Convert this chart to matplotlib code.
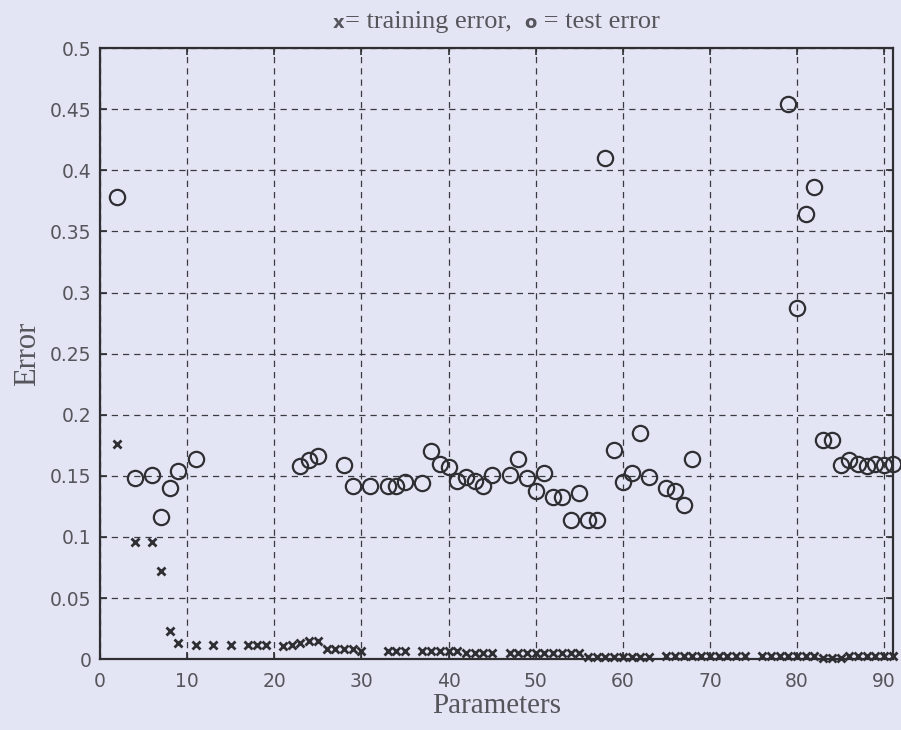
import matplotlib
matplotlib.use("Agg")
import matplotlib.pyplot as plt

# test error (circles)
test_x = [2, 4, 6, 7, 8, 9, 11, 23, 24, 25, 28, 29, 31, 33, 34, 35, 37,
          38, 39, 40, 41, 42, 43, 44, 45, 47, 48, 49, 50, 51, 52, 53, 54,
          55, 56, 57, 58, 59, 60, 61, 62, 63, 65, 66, 67, 68, 79, 80, 81,
          82, 83, 84, 85, 86, 87, 88, 89, 90, 91]
test_err = [0.378, 0.148, 0.151, 0.116, 0.140, 0.154, 0.164, 0.158, 0.163,
            0.166, 0.159, 0.142, 0.142, 0.142, 0.142, 0.145, 0.144, 0.170,
            0.160, 0.157, 0.146, 0.149, 0.146, 0.142, 0.151, 0.151, 0.164,
            0.148, 0.138, 0.152, 0.133, 0.133, 0.114, 0.136, 0.114, 0.114,
            0.410, 0.171, 0.145, 0.152, 0.185, 0.149, 0.140, 0.138, 0.126,
            0.164, 0.454, 0.287, 0.364, 0.386, 0.179, 0.179, 0.159, 0.163,
            0.160, 0.158, 0.160, 0.159, 0.160]

# training error (x marks)
train_x = [2, 4, 6, 7, 8, 9, 11, 13, 15, 17, 18, 19, 21, 22, 23, 24, 25,
           26, 27, 28, 29, 30, 33, 34, 35, 37, 38, 39, 40, 41, 42, 43, 44,
           45, 47, 48, 49, 50, 51, 52, 53, 54, 55, 56, 57, 58, 59, 60, 61,
           62, 63, 65, 66, 67, 68, 69, 70, 71, 72, 73, 74, 76, 77, 78, 79,
           80, 81, 82, 83, 84, 85, 86, 87, 88, 89, 90, 91]
train_err = [0.176, 0.096, 0.096, 0.072, 0.023, 0.013, 0.012, 0.012, 0.012,
             0.012, 0.012, 0.012, 0.011, 0.012, 0.013, 0.015, 0.015, 0.008,
             0.008, 0.008, 0.008, 0.007, 0.007, 0.007, 0.007, 0.007, 0.007,
             0.007, 0.007, 0.007, 0.005, 0.005, 0.005, 0.005, 0.005, 0.005,
             0.005, 0.005, 0.005, 0.005, 0.005, 0.005, 0.005, 0.002, 0.002,
             0.002, 0.002, 0.002, 0.002, 0.002, 0.002, 0.003, 0.003, 0.003,
             0.003, 0.003, 0.003, 0.003, 0.003, 0.003, 0.003, 0.003, 0.003,
             0.003, 0.003, 0.003, 0.003, 0.003, 0.001, 0.001, 0.001, 0.003,
             0.003, 0.003, 0.003, 0.003, 0.003]

x_ticks = [0, 10, 20, 30, 40, 50, 60, 70, 80, 90]
y_ticks = [0, 0.05, 0.1, 0.15, 0.2, 0.25, 0.3, 0.35, 0.4, 0.45, 0.5]
y_labels = ["0", "0.05", "0.1", "0.15", "0.2", "0.25", "0.3", "0.35",
            "0.4", "0.45", "0.5"]

bg = "#e4e5f4"
ink = "#2e2e33"
txt = "#55555c"

fig = plt.figure(figsize=(9.01, 7.30), dpi=100, facecolor=bg)
ax = fig.add_axes([0.111, 0.097, 0.880, 0.837], facecolor=bg)

ax.plot(test_x, test_err, linestyle="none", marker="o", markersize=11,
        markerfacecolor="none", markeredgecolor=ink, markeredgewidth=1.6,
        clip_on=False, zorder=4)
ax.plot(train_x, train_err, linestyle="none", marker="x", markersize=5.5,
        markeredgecolor=ink, markeredgewidth=2.0, clip_on=False, zorder=4)

ax.set_xlim(0, 91)
ax.set_ylim(0, 0.5)
ax.set_xticks(x_ticks)
ax.set_yticks(y_ticks)
ax.set_yticklabels(y_labels)
ax.tick_params(direction="in", length=5, width=1.2, color=ink,
               labelsize=13.5, labelcolor=txt, top=True, right=True)
ax.tick_params(axis="x", pad=9)
ax.tick_params(axis="y", pad=6)

ax.grid(True, color="#3a3a40", linestyle=(0, (5, 4)), linewidth=0.9)
ax.set_axisbelow(True)
for s in ax.spines.values():
    s.set_linewidth(1.6)
    s.set_color(ink)

serif = ["Liberation Serif", "DejaVu Serif"]
ax.set_xlabel("Parameters", fontsize=21, family=serif, color=txt, labelpad=2)
ax.set_ylabel("Error", fontsize=22, family=serif, color=txt, labelpad=6)

# title built from pieces so the marker letters stay small and bold
parts = [("x", "sans", 13, "bold"), ("= training error,  ", "serif", 19, "normal"),
         ("o", "sans", 13, "bold"), (" = test error", "serif", 19, "normal")]
fig.canvas.draw()
r = fig.canvas.get_renderer()
pieces = []
total = 0
for s, fam, size, wt in parts:
    t = fig.text(0, 0, s, fontsize=size, fontweight=wt, color=txt,
                 family=serif if fam == "serif" else ["DejaVu Sans"],
                 va="baseline", ha="left")
    w = t.get_window_extent(renderer=r).width
    pieces.append((t, w))
    total += w
x0 = (ax.get_position().x0 + ax.get_position().x1) / 2 * fig.bbox.width - total / 2
for t, w in pieces:
    t.set_position((x0 / fig.bbox.width, 1 - 28 / fig.bbox.height))
    x0 += w

fig.savefig("out.png", dpi=100, facecolor=bg)
